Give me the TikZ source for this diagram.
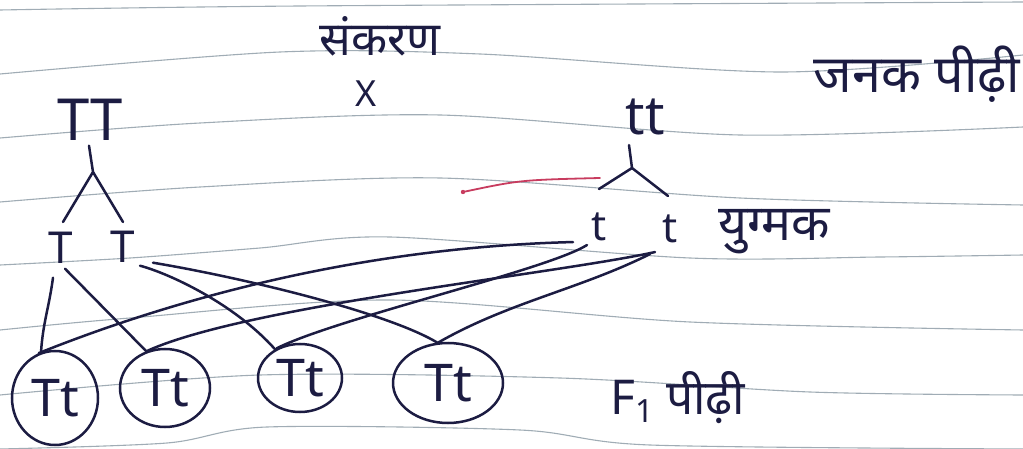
\documentclass[tikz,border=0pt]{standalone}
\usepackage{fontspec}
\setmainfont{Noto Sans}
\newfontfamily\deva[Script=Devanagari]{Noto Sans}
\usetikzlibrary{shapes.geometric}
\definecolor{inkc}{RGB}{28,28,66}
\definecolor{rulec}{RGB}{120,138,150}
\definecolor{redink}{RGB}{200,60,95}
\newcommand{\fs}[1]{\fontsize{#1}{#1}\selectfont}
\begin{document}
\begin{tikzpicture}[x=1pt,y=-1pt,
  ink/.style={draw=inkc,line width=2.5pt,line cap=round,line join=round},
  ruled/.style={draw=rulec,line width=1.1pt,opacity=.7},
  txt/.style={text=inkc,inner sep=0pt,outer sep=0pt},
  cell/.style={ellipse,draw=inkc,line width=2.5pt,text=inkc,inner sep=0pt,font=\fs{52}}]
\useasboundingbox (0,0) rectangle (1023,449);
\fill[white] (0,0) rectangle (1023,449);
% notebook ruled lines
\draw[ruled] plot[smooth] coordinates {(0,10) (300,6) (1023,2)};
\draw[ruled] plot[smooth] coordinates {(0,74) (280,52) (480,54) (780,72) (1023,55)};
\draw[ruled] plot[smooth] coordinates {(0,138) (200,123) (440,115) (740,135) (1023,127)};
\draw[ruled] plot[smooth] coordinates {(0,202) (200,187) (440,178) (740,198) (1023,205)};
\draw[ruled] plot[smooth] coordinates {(0,265) (130,258) (260,248) (390,237) (690,258) (880,257) (1023,255)};
\draw[ruled] plot[smooth] coordinates {(0,330) (130,318) (390,300) (690,322) (1023,330)};
\draw[ruled] plot[smooth] coordinates {(0,395) (260,375) (560,378) (810,392) (1023,395)};
\draw[ruled] plot[smooth] coordinates {(0,449) (167,443) (267,427) (520,430) (650,445) (1023,449)};
% texts
\node[txt,font=\deva\fs{47}] (cross) at (380,36) {संकरण};
\node[txt,font=\fs{36}] (x) at (366,94) {X};
\node[txt,font=\deva\fs{52}] (parent) at (917,74) {जनक पीढ़ी};
\node[txt,font=\fs{58}] (TT) at (90,120) {TT};
\node[txt,font=\fs{54}] (tt) at (645,117) {tt};
\node[txt,font=\fs{44}] (T1) at (61,248) {T};
\node[txt,font=\fs{44}] (T2) at (123,247) {T};
\node[txt,font=\fs{42}] (t1) at (599,227) {t};
\node[txt,font=\fs{42}] (t2) at (670,229) {t};
\node[txt,font=\deva\fs{50}] (gam) at (774,232) {युग्मक};
\node[txt,font=\deva\fs{48}] (f1) at (678,398) {F\raisebox{-8pt}{\fs{32}1} पीढ़ी};
% offspring
\node[cell,minimum width=86pt,minimum height=94pt] (e1) at (55,398) {Tt};
\node[cell,minimum width=90pt,minimum height=78pt] (e2) at (165,388) {Tt};
\node[cell,minimum width=84pt,minimum height=68pt] (e3) at (300,378) {Tt};
\node[cell,minimum width=110pt,minimum height=80pt] (e4) at (448,383) {Tt};
% forks
\coordinate (forkL) at (93,172);
\coordinate (forkR) at (632,168);
\coordinate (la) at (63,222);
\coordinate (lb) at (123,222);
\coordinate (ra) at (599,189);
\coordinate (rb) at (668,196);
\draw[ink] ([shift={(-1,5)}]TT.south) -- (forkL) -- (la);
\draw[ink] (forkL) -- (lb);
\draw[ink] ([shift={(-16,10)}]tt.south) -- (forkR) -- (ra);
\draw[ink] (forkR) -- (rb);
% stray red stroke
\draw[draw=redink,line width=1.8pt,line cap=round] (463,192) .. controls (520,180) .. (600,178);
\fill[redink] (463,192) circle (2.2pt);
% gamete to offspring connectors
\draw[ink] ([shift={(-8,14)}]T1.south) .. controls +(-4,30) and +(2,-30) .. (e1.107);
\draw[ink] ([shift={(4,5)}]T1.south) -- (e2.117);
\draw[ink] ([shift={(17,3)}]T2.south) .. controls +(30,8) and +(-40,-45) .. (e3.131);
\draw[ink] ([shift={(30,0)}]T2.south) .. controls +(90,15) and +(-50,-30) .. (e4.105);
\draw[ink] ([shift={(-26,1)}]t1.south) .. controls +(-200,5) and +(150,-60) .. (e1.110);
\draw[ink] ([shift={(-12,4)}]t1.south) .. controls +(-40,25) and +(60,-30) .. (e3.128);
\draw[ink] ([shift={(-15,9)}]t2.south) .. controls +(-100,22) and +(100,-45) .. (e2.115);
\draw[ink] ([shift={(-20,11)}]t2.south) .. controls +(-70,35) and +(70,-40) .. (e4.103);
\end{tikzpicture}
\end{document}
